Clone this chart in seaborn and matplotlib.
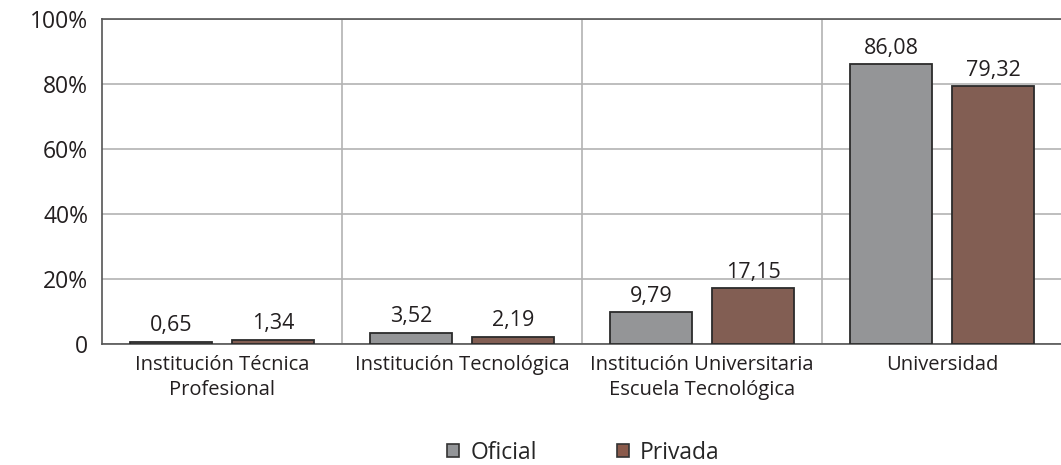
import pandas as pd
import numpy as np
import matplotlib.pyplot as plt
import seaborn as sns
from matplotlib.patches import Patch

categorias = ['Institución Técnica\nProfesional', 'Institución Tecnológica',
              'Institución Universitaria\nEscuela Tecnológica', 'Universidad']
oficial = [0.65, 3.52, 9.79, 86.08]
privada = [1.34, 2.19, 17.15, 79.32]
series = ['Oficial', 'Privada']
y_ticks = [0, 20, 40, 60, 80, 100]
y_labels = ['0', '20%', '40%', '60%', '80%', '100%']

df = pd.DataFrame({
    'categoria': categorias * 2,
    'sector': ['Oficial'] * 4 + ['Privada'] * 4,
    'valor': oficial + privada,
})

sns.set_style('white')
plt.rcParams['font.family'] = ['Open Sans', 'DejaVu Sans']

colores = {'Oficial': '#939598', 'Privada': '#8a5a4b'}

fig = plt.figure(figsize=(10.61, 4.65), dpi=100)
ax = fig.add_axes([0.0961, 0.2602, 0.905, 0.699])

sns.barplot(data=df, x='categoria', y='valor', hue='sector', hue_order=series,
            palette=colores, width=0.854, gap=0.2, edgecolor='#2b2b2b',
            linewidth=1.3, legend=False, ax=ax, zorder=3)

for cont, vals in zip(ax.containers, [oficial, privada]):
    ax.bar_label(cont, labels=[f'{v:.2f}'.replace('.', ',') for v in vals],
                 padding=4, fontsize=15.5, color='#231f20')

ax.set_ylim(0, 100)
ax.set_xlim(-0.5, 3.5)
ax.set_yticks(y_ticks)
ax.set_yticklabels(y_labels, fontsize=16.5, color='#231f20')
ax.set_xticks(range(4))
ax.set_xticklabels(categorias, fontsize=14.5, color='#231f20', linespacing=1.3)
ax.set_xticks([0.5, 1.5, 2.5], minor=True)
ax.tick_params(axis='x', which='major', length=0, pad=8)
ax.tick_params(axis='x', which='minor', length=8, color='#a0a0a0', width=1)
ax.tick_params(axis='y', length=0, pad=10)
ax.set_xlabel('')
ax.set_ylabel('')

ax.yaxis.grid(True, color='#b3b3b3', linewidth=1.2, zorder=0)
ax.xaxis.grid(True, which='minor', color='#b3b3b3', linewidth=1.2, zorder=0)
ax.set_axisbelow(True)

for s in ['left', 'top', 'bottom']:
    ax.spines[s].set_color('#555555')
    ax.spines[s].set_linewidth(1.2)
ax.spines['right'].set_visible(False)

handles = [Patch(facecolor=colores[s], edgecolor='#333333', linewidth=1.2, label=s)
           for s in series]
fig.legend(handles=handles, loc='center', bbox_to_anchor=(0.55, 0.026),
           ncol=2, frameon=False, fontsize=16.5, handlelength=0.5,
           handleheight=0.5, handletextpad=0.5, columnspacing=3.5)

fig.savefig('out.png', dpi=100)
